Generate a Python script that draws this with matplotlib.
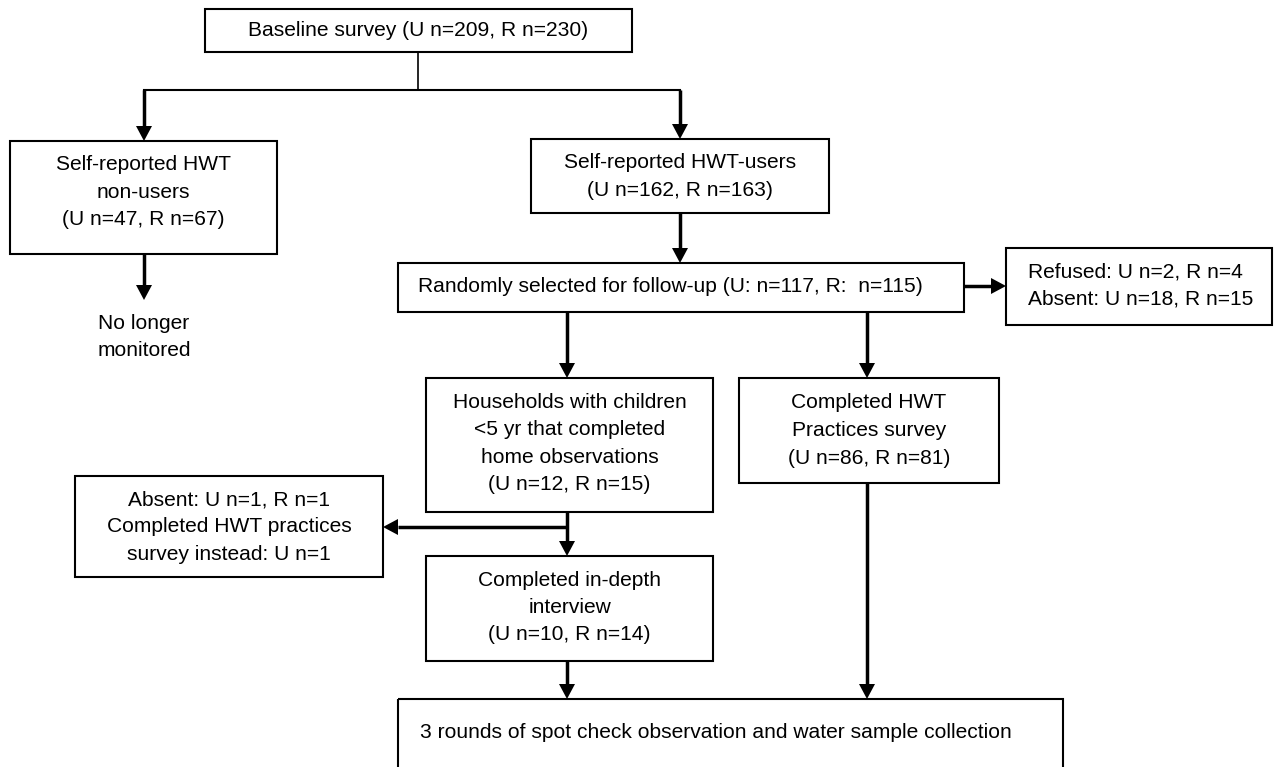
import matplotlib
matplotlib.use("Agg")
import matplotlib.pyplot as plt
from matplotlib.patches import Rectangle

plt.rcParams['font.family'] = ['Liberation Sans', 'DejaVu Sans']

# box texts, one list of lines per box
baseline_txt = ["Baseline survey (U n=209, R n=230)"]
nonusers_txt = ["Self-reported HWT", "non-users", "(U n=47, R n=67)"]
users_txt = ["Self-reported HWT-users", "(U n=162, R n=163)"]
random_txt = ["Randomly selected for follow-up (U: n=117, R:  n=115)"]
refused_txt = ["Refused: U n=2, R n=4", "Absent: U n=18, R n=15"]
households_txt = ["Households with children", "<5 yr that completed",
                  "home observations", "(U n=12, R n=15)"]
practices_txt = ["Completed HWT", "Practices survey", "(U n=86, R n=81)"]
absent_txt = ["Absent: U n=1, R n=1", "Completed HWT practices",
              "survey instead: U n=1"]
indepth_txt = ["Completed in-depth", "interview", "(U n=10, R n=14)"]
final_txt = ["3 rounds of spot check observation and water sample collection"]
dropped_txt = ["No longer", "monitored"]

W, H = 1274, 767
fig = plt.figure(figsize=(W / 100, H / 100), dpi=100)
ax = fig.add_axes([0, 0, 1, 1])
ax.set_xlim(0, W)
ax.set_ylim(H, 0)
ax.axis('off')

FS = 15.1
LH = 27.5


def box(x0, y0, x1, y1, lines, align='center', tx=None, ty=None):
    ax.add_patch(Rectangle((x0, y0), x1 - x0, y1 - y0, fill=False,
                           edgecolor='black', linewidth=1.5))
    write(lines, tx if tx is not None else (x0 + x1) / 2,
          ty if ty is not None else (y0 + y1) / 2, align)


def write(lines, cx, cy, align='center'):
    n = len(lines)
    for i, s in enumerate(lines):
        ax.text(cx, cy + (i - (n - 1) / 2) * LH, s, fontsize=FS,
                ha=align, va='center', color='black')


def arrow(x0, y0, x1, y1, lw=2.5, hl=15, hw=8):
    dx, dy = x1 - x0, y1 - y0
    d = (dx * dx + dy * dy) ** 0.5
    ux, uy = dx / d, dy / d
    bx, by = x1 - ux * hl, y1 - uy * hl
    ax.plot([x0, bx], [y0, by], color='black', lw=lw, solid_capstyle='butt')
    ax.fill([x1, bx - uy * hw, bx + uy * hw], [y1, by + ux * hw, by - ux * hw],
            color='black', lw=0)


def line(xs, ys, lw=1.5):
    ax.plot(xs, ys, color='black', lw=lw, solid_capstyle='projecting')


box(205, 9, 632, 52, baseline_txt, ty=31)
box(10, 141, 277, 254, nonusers_txt, ty=192)
box(531, 139, 829, 213, users_txt, ty=176.5)
box(398, 263, 964, 312, random_txt, align='left', tx=418, ty=287)
box(1006, 248, 1272, 325, refused_txt, align='left', tx=1028, ty=285.5)
box(426, 378, 713, 512, households_txt, ty=443.5)
box(739, 378, 999, 483, practices_txt, ty=430.5)
box(75, 476, 383, 577, absent_txt, ty=527)
box(426, 556, 713, 661, indepth_txt, ty=607.5)
box(398, 699, 1063, 800, final_txt, align='left', tx=420, ty=733)
write(dropped_txt, 144, 337)

# connectors
line([418, 418], [52, 90], lw=1.2)
line([144, 680], [90, 90], lw=1.5)
arrow(144, 90, 144, 141)
arrow(680, 90, 680, 139)
arrow(144, 254, 144, 300)
arrow(680, 213, 680, 263)
arrow(964, 286, 1006, 286)
arrow(567, 312, 567, 378)
arrow(867, 312, 867, 378)
arrow(567, 512, 567, 556)
arrow(567, 527, 383, 527)
arrow(567, 661, 567, 699)
arrow(867, 483, 867, 699)

fig.savefig("out.png", dpi=100, facecolor='white')
